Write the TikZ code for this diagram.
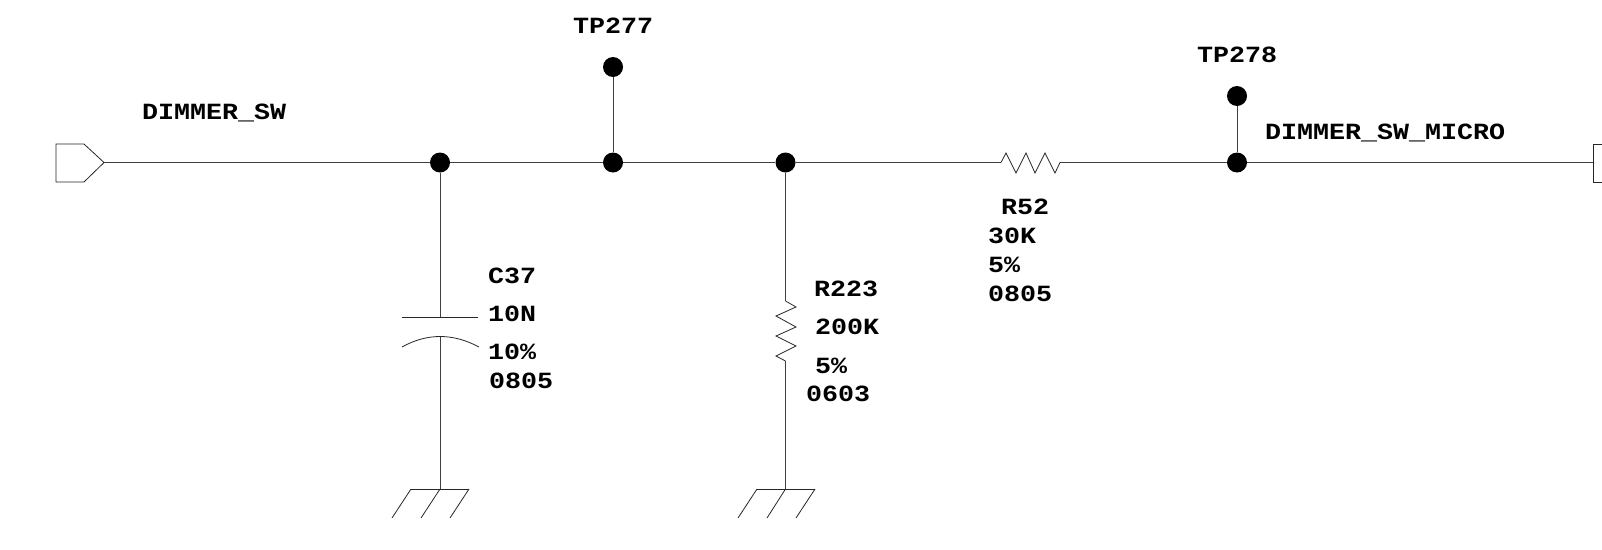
\documentclass[tikz,border=0pt]{standalone}
\usepackage{fontspec}
\setmonofont[FakeStretch=1.15]{Liberation Mono}
\tikzset{
  wire/.style={line width=1pt,draw=black!75},
  sym/.style={line width=0.8pt,draw=black!85,line join=miter},
  junction/.style={circle,fill=black,draw=none,inner sep=0pt,minimum size=20pt},
  lab/.style={anchor=base west,inner sep=0pt,outer sep=0pt,font=\ttfamily\bfseries\fontsize{23.2}{23.2}\selectfont,text=black},
}
\begin{document}
\begin{tikzpicture}[x=1pt,y=-1pt]
\useasboundingbox (0,0) rectangle (1602,549);
% free ends and junctions
\coordinate (pL) at (104,162.5);
\coordinate (pR) at (1593,162.5);
\node[junction] (j1) at (440,162.5) {};
\node[junction] (j2) at (613,162.5) {};
\node[junction] (j3) at (785.5,162.5) {};
\node[junction] (j4) at (1237,162.5) {};
\node[junction] (tp277) at (613,67) {};
\node[junction] (tp278) at (1237,96) {};
\coordinate (r52a) at (1001,162.5);
\coordinate (r52b) at (1060,162.5);
\coordinate (capT) at (440,317);
\coordinate (capB) at (440,336);
\coordinate (g1) at (440,489);
\coordinate (r223a) at (785.5,301);
\coordinate (r223b) at (785.5,361);
\coordinate (g2) at (785.5,489);
% connectors
\draw[wire] (pL) -- (j1);
\draw[wire] (j1) -- (j2);
\draw[wire] (j2) -- (j3);
\draw[wire] (j3) -- (r52a);
\draw[wire] (r52b) -- (j4);
\draw[wire] (j4) -- (pR);
\draw[wire] (j2) -- (tp277);
\draw[wire] (j4) -- (tp278);
\draw[wire] (j1) -- (capT);
\draw[wire] (capB) -- (g1);
\draw[wire] (j3) -- (r223a);
\draw[wire] (r223b) -- (g2);
% ports
\draw[sym] (56,144) -- (84,144) -- (pL) -- (84,182) -- (56,182) -- cycle;
\draw[sym] (1604,144) -- (1593,144) -- (pR) -- (1593,182) -- (1604,182);
% R52
\draw[sym] (r52a) -- (1006,153) -- (1016,173) -- (1026,153) -- (1035,173) -- (1045,153) -- (1055,173) -- (r52b);
% R223
\draw[sym] (r223a) -- (796,307) -- (776,316) -- (796,327) -- (776,336) -- (796,346) -- (776,356) -- (r223b);
% C37
\draw[sym] (402,317) -- (478,317);
\draw[sym] (402,347) .. controls (427,333) and (453,333) .. (479,347);
% grounds
\draw[sym] (411,489) -- (469,489);
\draw[sym] (411,489) -- (392,518);
\draw[sym] (g1) -- (421,518);
\draw[sym] (469,489) -- (450,518);
\draw[sym] (757,489) -- (815,489);
\draw[sym] (757,489) -- (738,518);
\draw[sym] (g2) -- (767,518);
\draw[sym] (815,489) -- (796,518);
% labels
\node[lab] (t1) at (142,119) {DIMMER\_SW};
\node[lab] (t2) at (573,33) {TP277};
\node[lab] (t3) at (1197,62) {TP278};
\node[lab] (t4) at (1265,139) {DIMMER\_SW\_MICRO};
\node[lab] (t5) at (488,283) {C37};
\node[lab] (t6) at (488,321) {10N};
\node[lab] (t7) at (488,359) {10\%};
\node[lab] (t8) at (489,388) {0805};
\node[lab] (t9) at (814,296.5) {R223};
\node[lab] (t10) at (815,334) {200K};
\node[lab] (t11) at (815,373) {5\%};
\node[lab] (t12) at (806,401) {0603};
\node[lab] (t13) at (1001,214.5) {R52};
\node[lab] (t14) at (988,243) {30K};
\node[lab] (t15) at (988,272.5) {5\%};
\node[lab] (t16) at (988,301.5) {0805};
\end{tikzpicture}
\end{document}
